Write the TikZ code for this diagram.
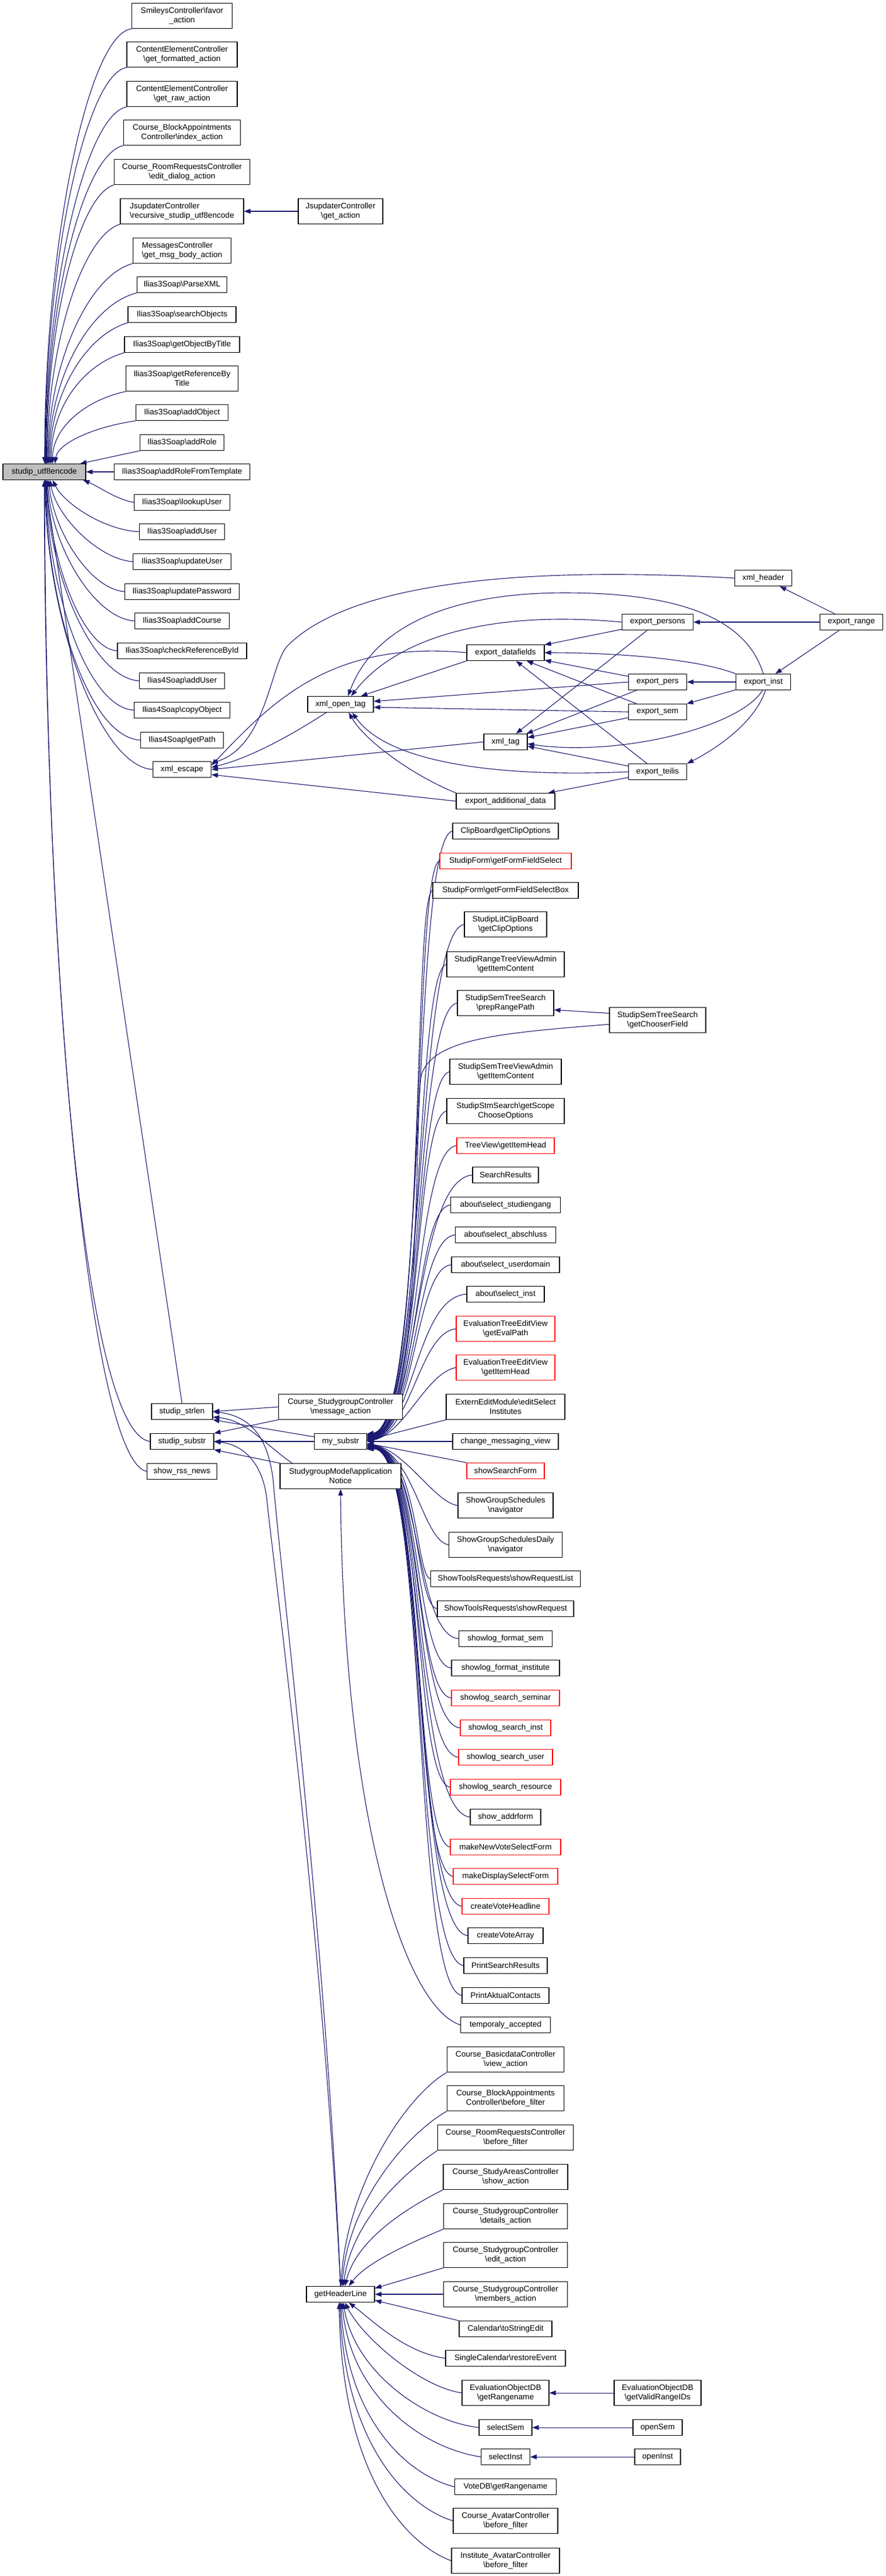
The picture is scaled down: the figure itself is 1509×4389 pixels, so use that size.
\documentclass[tikz,border=0pt]{standalone}
\usepackage{fontspec}
\setmainfont{Liberation Sans}
\usetikzlibrary{arrows.meta}
\definecolor{midblue}{HTML}{191970}
\definecolor{rootgray}{HTML}{BFBFBF}
\newcommand\BS{\textbackslash}
\newcommand\US{\_}
\newcommand\NB[6]{\node[#1,minimum width=#4pt,minimum height=#5pt] (#2) at (#3) {#6};}
\pgfdeclarelayer{bg}
\pgfsetlayers{bg,main}
\tikzset{
  nd/.style={draw=black, line width=1.1pt, inner sep=2pt, fill=white, align=center, text=black,
             font=\fontsize{13.6pt}{16pt}\selectfont},
  ndl/.style={nd, align=left},
  rd/.style={nd, draw=red},
  rt/.style={nd, fill=rootgray},
  ln/.style={midblue, line width=1.1pt, -{Triangle[length=11pt,width=8pt]}},
}
\begin{document}
\begin{tikzpicture}[x=1pt,y=-1pt]
\useasboundingbox (0,0) rectangle (1509,4389);
% ---------- column 1/2 ----------
\NB{rt}{root}{75.5,804}{141}{27}{studip\US utf8encode}
\NB{nd}{smiley}{310,27}{171}{43}{SmileysController\BS favor\\\US action}
\NB{nd}{cefmt}{310,93}{188}{43}{ContentElementController\\\BS get\US formatted\US action}
\NB{nd}{ceraw}{310,160}{188}{43}{ContentElementController\\\BS get\US raw\US action}
\NB{nd}{cbaidx}{310,226}{199}{43}{Course\US BlockAppointments\\Controller\BS index\US action}
\NB{nd}{crredit}{310,293}{231}{43}{Course\US RoomRequestsController\\\BS edit\US dialog\US action}
\NB{ndl}{jsrec}{310,360}{210}{43}{JsupdaterController\\\BS recursive\US studip\US utf8encode}
\NB{nd}{jsget}{580,360}{144}{43}{JsupdaterController\\\BS get\US action}
\NB{ndl}{msg}{310,427}{167}{43}{MessagesController\\\BS get\US msg\US body\US action}
\NB{nd}{parse}{310,485}{153}{27}{Ilias3Soap\BS ParseXML}
\NB{nd}{search}{310,536}{184}{27}{Ilias3Soap\BS searchObjects}
\NB{nd}{getobj}{310,587}{196}{27}{Ilias3Soap\BS getObjectByTitle}
\NB{nd}{getref}{310,645}{191}{43}{Ilias3Soap\BS getReferenceBy\\Title}
\NB{nd}{addobj}{310,703}{157}{27}{Ilias3Soap\BS addObject}
\NB{nd}{addrole}{310,754}{143}{27}{Ilias3Soap\BS addRole}
\NB{nd}{addrft}{310,804}{231}{27}{Ilias3Soap\BS addRoleFromTemplate}
\NB{nd}{lookup}{310,856}{163}{27}{Ilias3Soap\BS lookupUser}
\NB{nd}{adduserA}{310,906}{145}{27}{Ilias3Soap\BS addUser}
\NB{nd}{upduser}{310,957}{167}{27}{Ilias3Soap\BS updateUser}
\NB{nd}{updpw}{310,1008}{195}{27}{Ilias3Soap\BS updatePassword}
\NB{nd}{addcourse}{310,1058}{161}{27}{Ilias3Soap\BS addCourse}
\NB{nd}{checkref}{310,1109}{220}{27}{Ilias3Soap\BS checkReferenceById}
\NB{nd}{adduserB}{310,1160}{145}{27}{Ilias4Soap\BS addUser}
\NB{nd}{copyobj}{310,1210}{163}{27}{Ilias4Soap\BS copyObject}
\NB{nd}{getpath}{310,1261}{141}{27}{Ilias4Soap\BS getPath}
\NB{nd}{xmlesc}{310,1311}{99}{27}{xml\US escape}
\NB{nd}{strlen}{310,2405}{104}{27}{studip\US strlen}
\NB{nd}{substr}{310,2456}{108}{27}{studip\US substr}
\NB{nd}{rss}{310,2507}{119}{27}{show\US rss\US news}
% ---------- xml area ----------
\NB{nd}{xmlopen}{580,1200}{112}{27}{xml\US open\US tag}
\NB{nd}{xmltag}{861,1264}{74}{27}{xml\US tag}
\NB{nd}{expdf}{861,1112}{132}{27}{export\US datafields}
\NB{nd}{expadd}{861,1365}{168}{27}{export\US additional\US data}
\NB{nd}{xmlheader}{1300,985}{97}{27}{xml\US header}
\NB{nd}{exppersons}{1120,1060}{121}{27}{export\US persons}
\NB{nd}{exprange}{1450,1060}{107}{27}{export\US range}
\NB{nd}{exppers}{1120,1162}{99}{27}{export\US pers}
\NB{nd}{expinst}{1300,1162}{93}{27}{export\US inst}
\NB{nd}{expsem}{1120,1213}{99}{27}{export\US sem}
\NB{nd}{expteilis}{1120,1315}{99}{27}{export\US teilis}
% ---------- column 3 lower ----------
\NB{nd}{message}{580,2397}{211}{43}{Course\US StudygroupController\\\BS message\US action}
\NB{nd}{mysubstr}{580,2456}{89}{27}{my\US substr}
\NB{nd}{sgmodel}{580,2515}{206}{43}{StudygroupModel\BS application\\Notice}
\NB{nd}{ghl}{580,3909}{116}{27}{getHeaderLine}
% ---------- column 4 ----------
\NB{nd}{clipb}{861,1416}{180}{27}{ClipBoard\BS getClipOptions}
\NB{rd}{sfsel}{861,1467}{224}{27}{StudipForm\BS getFormFieldSelect}
\NB{nd}{sfselbox}{861,1517}{248}{27}{StudipForm\BS getFormFieldSelectBox}
\NB{nd}{litclip}{861,1575}{140}{43}{StudipLitClipBoard\\\BS getClipOptions}
\NB{nd}{rangetree}{861,1643}{200}{43}{StudipRangeTreeViewAdmin\\\BS getItemContent}
\NB{nd}{preprange}{861,1709}{164}{43}{StudipSemTreeSearch\\\BS prepRangePath}
\NB{nd}{chooser}{1120,1738}{164}{43}{StudipSemTreeSearch\\\BS getChooserField}
\NB{nd}{semtree}{861,1826}{190}{43}{StudipSemTreeViewAdmin\\\BS getItemContent}
\NB{nd}{stmsearch}{861,1893}{200}{43}{StudipStmSearch\BS getScope\\ChooseOptions}
\NB{rd}{treeview}{861,1952}{166}{27}{TreeView\BS getItemHead}
\NB{nd}{searchres}{861,2002}{112}{27}{SearchResults}
\NB{nd}{studiengang}{861,2053}{187}{27}{about\BS select\US studiengang}
\NB{nd}{abschluss}{861,2104}{171}{27}{about\BS select\US abschluss}
\NB{nd}{userdomain}{861,2155}{184}{27}{about\BS select\US userdomain}
\NB{nd}{aboutinst}{861,2205}{132}{27}{about\BS select\US inst}
\NB{rd}{evalpath}{861,2264}{168}{43}{EvaluationTreeEditView\\\BS getEvalPath}
\NB{rd}{evalhead}{861,2330}{168}{43}{EvaluationTreeEditView\\\BS getItemHead}
\NB{nd}{extern}{861,2397}{202}{43}{ExternEditModule\BS editSelect\\Institutes}
\NB{nd}{changemsg}{861,2456}{180}{27}{change\US messaging\US view}
\NB{rd}{showsearch}{861,2506}{132}{27}{showSearchForm}
\NB{nd}{groupsched}{861,2565}{162}{43}{ShowGroupSchedules\\\BS navigator}
\NB{nd}{groupdaily}{861,2632}{193}{43}{ShowGroupSchedulesDaily\\\BS navigator}
\NB{nd}{toolslist}{861,2690}{255}{27}{ShowToolsRequests\BS showRequestList}
\NB{nd}{toolsreq}{861,2741}{232}{27}{ShowToolsRequests\BS showRequest}
\NB{nd}{logsem}{861,2792}{159}{27}{showlog\US format\US sem}
\NB{nd}{loginst}{861,2842}{184}{27}{showlog\US format\US institute}
\NB{rd}{logseminar}{861,2893}{184}{27}{showlog\US search\US seminar}
\NB{rd}{logsinst}{861,2944}{154}{27}{showlog\US search\US inst}
\NB{rd}{logsuser}{861,2994}{160}{27}{showlog\US search\US user}
\NB{rd}{logsres}{861,3045}{188}{27}{showlog\US search\US resource}
\NB{nd}{addrform}{861,3096}{120}{27}{show\US addrform}
\NB{rd}{newvote}{861,3147}{188}{27}{makeNewVoteSelectForm}
\NB{rd}{dispsel}{861,3197}{178}{27}{makeDisplaySelectForm}
\NB{rd}{votehead}{861,3248}{148}{27}{createVoteHeadline}
\NB{nd}{votearray}{861,3298}{128}{27}{createVoteArray}
\NB{nd}{printsearch}{861,3349}{142}{27}{PrintSearchResults}
\NB{nd}{printakt}{861,3400}{148}{27}{PrintAktualContacts}
\NB{nd}{temporaly}{861,3450}{153}{27}{temporaly\US accepted}
\NB{nd}{cbasic}{861,3509}{199}{43}{Course\US BasicdataController\\\BS view\US action}
\NB{nd}{cbabf}{861,3575}{199}{43}{Course\US BlockAppointments\\Controller\BS before\US filter}
\NB{nd}{crrbf}{861,3642}{231}{43}{Course\US RoomRequestsController\\\BS before\US filter}
\NB{nd}{cstudyareas}{861,3709}{212}{43}{Course\US StudyAreasController\\\BS show\US action}
\NB{nd}{csgdetails}{861,3776}{211}{43}{Course\US StudygroupController\\\BS details\US action}
\NB{nd}{csgedit}{861,3842}{211}{43}{Course\US StudygroupController\\\BS edit\US action}
\NB{nd}{csgmembers}{861,3909}{211}{43}{Course\US StudygroupController\\\BS members\US action}
\NB{nd}{caltostr}{861,3968}{158}{27}{Calendar\BS toStringEdit}
\NB{nd}{singlecal}{861,4018}{204}{27}{SingleCalendar\BS restoreEvent}
\NB{nd}{evalrange}{861,4077}{148}{43}{EvaluationObjectDB\\\BS getRangename}
\NB{nd}{evalvalid}{1120,4077}{148}{43}{EvaluationObjectDB\\\BS getValidRangeIDs}
\NB{nd}{selsem}{861,4136}{90}{27}{selectSem}
\NB{nd}{opensem}{1120,4136}{84}{27}{openSem}
\NB{nd}{selinst}{861,4186}{83}{27}{selectInst}
\NB{nd}{openinst}{1120,4186}{78}{27}{openInst}
\NB{nd}{votedb}{861,4237}{173}{27}{VoteDB\BS getRangename}
\NB{nd}{cavatar}{861,4295}{178}{43}{Course\US AvatarController\\\BS before\US filter}
\NB{nd}{iavatar}{861,4363}{184}{43}{Institute\US AvatarController\\\BS before\US filter}

\begin{pgfonlayer}{bg}
\fill[white] (0,0) rectangle (1509,4389);
% ---- callers of studip_utf8encode (above) ----
\draw[ln] (smiley.south west) .. controls +(-75,10) and +(0,-370) .. (root.88);
\draw[ln] (cefmt.south west) .. controls +(-70,12) and +(0,-340) .. (root.85);
\draw[ln] (ceraw.south west) .. controls +(-70,14) and +(0,-300) .. (root.82);
\draw[ln] (cbaidx.south west) .. controls +(-70,16) and +(0,-270) .. (root.78);
\draw[ln] (crredit.south west) .. controls +(-60,18) and +(0,-240) .. (root.74);
\draw[ln] (jsrec.south west) .. controls +(-65,20) and +(0,-200) .. (root.70);
\draw[ln] (msg.south west) .. controls +(-75,20) and +(0,-170) .. (root.65);
\draw[ln] (parse.south west) .. controls +(-80,20) and +(0,-145) .. (root.60);
\draw[ln] (search.south west) .. controls +(-70,20) and +(0,-120) .. (root.55);
\draw[ln] (getobj.south west) .. controls +(-70,20) and +(0,-95) .. (root.50);
\draw[ln] (getref.south west) .. controls +(-70,15) and +(0,-60) .. (root.45);
\draw[ln] (addobj.south west) .. controls +(-70,10) and +(5,-35) .. (root.38);
\draw[ln] (addrole.south west) -- (root.13);
\draw[ln] (addrft) -- (root);
% ---- callers of studip_utf8encode (below) ----
\draw[ln] (lookup.west) .. controls +(-30,-5) and +(25,10) .. (root.-12);
\draw[ln] (adduserA.west) .. controls +(-60,-3) and +(20,40) .. (root.-45);
\draw[ln] (upduser.west) .. controls +(-60,-5) and +(10,60) .. (root.-55);
\draw[ln] (updpw.west) .. controls +(-60,-5) and +(8,85) .. (root.-62);
\draw[ln] (addcourse.west) .. controls +(-70,-5) and +(6,110) .. (root.-68);
\draw[ln] (checkref.west) .. controls +(-60,-5) and +(5,135) .. (root.-72);
\draw[ln] (adduserB.west) .. controls +(-80,-5) and +(4,160) .. (root.-76);
\draw[ln] (copyobj.west) .. controls +(-80,-5) and +(3,185) .. (root.-79);
\draw[ln] (getpath.west) .. controls +(-90,-5) and +(2,210) .. (root.-82);
\draw[ln] (xmlesc.west) .. controls +(-90,-5) and +(1,235) .. (root.-84);
\draw[ln] (strlen.north) -- (root.-86);
\draw[ln] (substr.west) .. controls +(-116,-16) and +(1,783) .. (root.-88);
\draw[ln] (rss.west) .. controls +(-100,-20) and +(0,800) .. (root.-90);
\draw[ln] (jsget) -- (jsrec);
% ---- xml_escape ----
\draw[ln] (xmlheader.west) .. controls (900,965) and (600,990) .. (490,1100) .. controls (460,1130) and (455,1270) .. (xmlesc.12);
\draw[ln] (expdf.west) .. controls (560,1090) and (460,1200) .. (xmlesc.8);
\draw[ln] (xmlopen.-150) .. controls (500,1250) and (430,1290) .. (xmlesc.4);
\draw[ln] (xmltag.west) -- (xmlesc.east);
\draw[ln] (expadd.west) -- (xmlesc.-10);
% ---- xml_open_tag ----
\draw[ln] (expdf.south west) -- (xmlopen.22);
\draw[ln] (exppersons.west) .. controls (850,1040) and (680,1080) .. (xmlopen.38);
\draw[ln] (expinst.north) .. controls (1270,1050) and (1150,1010) .. (962,1010) .. controls (780,1010) and (640,1060) .. (xmlopen.48);
\draw[ln] (exppers.west) -- (xmlopen.5);
\draw[ln] (expsem.west) -- (xmlopen.-5);
\draw[ln] (expteilis.west) .. controls (850,1325) and (660,1300) .. (xmlopen.-35);
\draw[ln] (expadd.north west) .. controls (700,1320) and (620,1260) .. (xmlopen.-45);
% ---- xml_tag ----
\draw[ln] (exppersons) -- (xmltag);
\draw[ln] (exppers) -- (xmltag);
\draw[ln] (expsem) -- (xmltag);
\draw[ln] (expinst.-95) .. controls (1260,1240) and (1050,1290) .. (xmltag.-5);
\draw[ln] (expteilis) -- (xmltag);
% ---- export_datafields ----
\draw[ln] (exppersons) -- (expdf);
\draw[ln] (expinst.north west) .. controls (1180,1120) and (1030,1112) .. (expdf.east);
\draw[ln] (exppers) -- (expdf);
\draw[ln] (expsem) -- (expdf);
\draw[ln] (expteilis) -- (expdf);
% ---- export_range / export_inst ----
\draw[ln] (exprange) -- (exppersons);
\draw[ln] (exprange) -- (xmlheader);
\draw[ln] (exprange) -- (expinst);
\draw[ln] (expinst) -- (exppers);
\draw[ln] (expinst) -- (expsem);
\draw[ln] (expinst.-75) .. controls +(-20,60) and +(40,-20) .. (expteilis.north east);
\draw[ln] (expteilis) -- (expadd);
% ---- studip_strlen / studip_substr ----
\draw[ln] (message.west) -- (strlen.east);
\draw[ln] (message.south west) -- (substr.north east);
\draw[ln] (mysubstr.170) -- (strlen.south east);
\draw[ln] (mysubstr) -- (substr);
\draw[ln] (sgmodel.165) .. controls (450,2460) and (420,2420) .. (strlen.-10);
\draw[ln] (sgmodel.north west) -- (substr.south east);
\draw[ln] (ghl.north) .. controls (555,3300) and (480,2700) .. (465,2520) .. controls (455,2440) and (420,2412) .. (strlen.east);
\draw[ln] (ghl.north) .. controls (550,3300) and (470,2700) .. (455,2560) .. controls (450,2500) and (420,2462) .. (substr.east);
\draw[ln] (temporaly.west) .. controls (690,3420) and (585,3100) .. (sgmodel.south);
% ---- my_substr callers ----
\draw[ln] (clipb.west) .. controls (700,1430) and (728,2430) .. (mysubstr.16);
\draw[ln] (sfsel.west) .. controls (702,1480) and (727,2430) .. (mysubstr.15);
\draw[ln] (sfselbox.west) .. controls (702,1530) and (726,2430) .. (mysubstr.14);
\draw[ln] (litclip.west) .. controls (705,1590) and (725,2430) .. (mysubstr.13);
\draw[ln] (rangetree.west) .. controls (705,1655) and (724,2430) .. (mysubstr.12);
\draw[ln] (preprange.west) .. controls (705,1720) and (723,2430) .. (mysubstr.11);
\draw[ln] (chooser.185) .. controls (850,1760) and (740,1770) .. (718,1830) .. controls (705,1880) and (722,2430) .. (mysubstr.10);
\draw[ln] (semtree.west) .. controls (705,1840) and (720,2432) .. (mysubstr.9);
\draw[ln] (stmsearch.west) .. controls (705,1905) and (718,2432) .. (mysubstr.8);
\draw[ln] (treeview.west) .. controls (705,1960) and (716,2434) .. (mysubstr.7);
\draw[ln] (searchres.west) .. controls (705,2010) and (714,2434) .. (mysubstr.6);
\draw[ln] (studiengang.west) .. controls (705,2060) and (712,2436) .. (mysubstr.5);
\draw[ln] (abschluss.west) .. controls (706,2110) and (710,2436) .. (mysubstr.4);
\draw[ln] (userdomain.west) .. controls (706,2160) and (708,2438) .. (mysubstr.3);
\draw[ln] (aboutinst.west) .. controls (708,2210) and (705,2438) .. (mysubstr.2);
\draw[ln] (evalpath.west) .. controls (715,2270) and (700,2440) .. (mysubstr.1);
\draw[ln] (evalhead.west) .. controls (725,2340) and (690,2442) .. (mysubstr.0);
\draw[ln] (extern.south west) -- (mysubstr.3);
\draw[ln] (changemsg) -- (mysubstr);
\draw[ln] (showsearch.north west) -- (mysubstr.-4);
\draw[ln] (groupsched.west) .. controls (740,2560) and (690,2470) .. (mysubstr.-5);
\draw[ln] (groupdaily.west) .. controls (720,2625) and (705,2475) .. (mysubstr.-6);
\draw[ln] (toolslist.west) .. controls (708,2685) and (712,2472) .. (mysubstr.-7);
\draw[ln] (toolsreq.west) .. controls (706,2735) and (714,2472) .. (mysubstr.-8);
\draw[ln] (logsem.west) .. controls (705,2785) and (716,2470) .. (mysubstr.-9);
\draw[ln] (loginst.west) .. controls (705,2835) and (718,2470) .. (mysubstr.-10);
\draw[ln] (logseminar.west) .. controls (704,2885) and (720,2468) .. (mysubstr.-11);
\draw[ln] (logsinst.west) .. controls (704,2935) and (721,2468) .. (mysubstr.-12);
\draw[ln] (logsuser.west) .. controls (703,2985) and (722,2466) .. (mysubstr.-13);
\draw[ln] (logsres.west) .. controls (703,3035) and (723,2466) .. (mysubstr.-14);
\draw[ln] (addrform.west) .. controls (702,3085) and (724,2465) .. (mysubstr.-15);
\draw[ln] (newvote.west) .. controls (702,3135) and (725,2465) .. (mysubstr.-15);
\draw[ln] (dispsel.west) .. controls (701,3185) and (726,2464) .. (mysubstr.-16);
\draw[ln] (votehead.west) .. controls (701,3235) and (727,2464) .. (mysubstr.-16);
\draw[ln] (votearray.west) .. controls (700,3285) and (728,2463) .. (mysubstr.-16);
\draw[ln] (printsearch.west) .. controls (700,3335) and (729,2463) .. (mysubstr.-16);
\draw[ln] (printakt.west) .. controls (700,3385) and (730,2462) .. (mysubstr.-16);
\draw[ln] (chooser.172) -- (preprange.-8);
% ---- getHeaderLine callers ----
\draw[ln] (cbasic.south west) .. controls +(-70,40) and +(10,-170) .. (ghl.88);
\draw[ln] (cbabf.south west) .. controls +(-70,40) and +(10,-140) .. (ghl.80);
\draw[ln] (crrbf.south west) .. controls +(-60,40) and +(15,-110) .. (ghl.72);
\draw[ln] (cstudyareas.south west) .. controls +(-60,30) and +(20,-80) .. (ghl.62);
\draw[ln] (csgdetails.south west) .. controls +(-60,25) and +(30,-40) .. (ghl.45);
\draw[ln] (csgedit.south west) -- (ghl.10);
\draw[ln] (csgmembers) -- (ghl);
\draw[ln] (caltostr.north west) -- (ghl.-10);
\draw[ln] (singlecal.west) .. controls +(-70,-10) and +(40,30) .. (ghl.-45);
\draw[ln] (evalrange.west) .. controls +(-70,-10) and +(30,60) .. (ghl.-62);
\draw[ln] (selsem.west) .. controls +(-90,-10) and +(20,120) .. (ghl.-72);
\draw[ln] (selinst.west) .. controls +(-100,-15) and +(15,160) .. (ghl.-80);
\draw[ln] (votedb.west) .. controls +(-80,-20) and +(10,200) .. (ghl.-88);
\draw[ln] (cavatar.west) .. controls +(-80,-25) and +(8,240) .. (ghl.-95);
\draw[ln] (iavatar.west) .. controls +(-80,-30) and +(5,290) .. (ghl.-100);
\draw[ln] (evalvalid) -- (evalrange);
\draw[ln] (opensem) -- (selsem);
\draw[ln] (openinst) -- (selinst);
\end{pgfonlayer}
\end{tikzpicture}
\end{document}
